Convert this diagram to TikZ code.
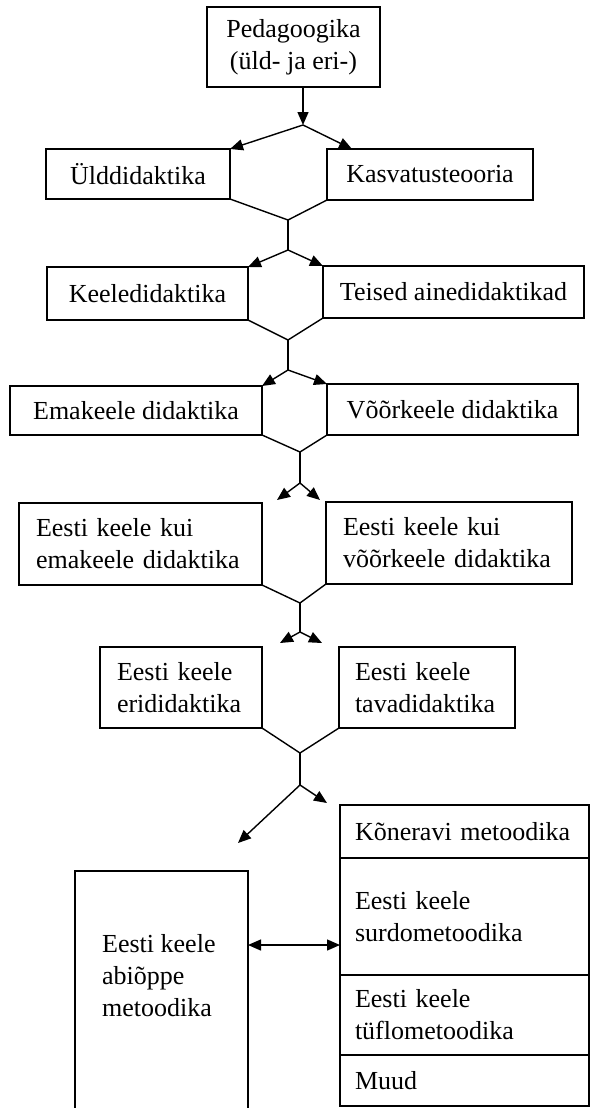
\documentclass[tikz,border=0pt]{standalone}
\usepackage{fontspec}
\setmainfont{Liberation Serif}
\usetikzlibrary{arrows.meta}
\begin{document}
\begin{tikzpicture}[x=1pt,y=-1pt,
  box/.style={draw, line width=2.5pt, anchor=north west, inner sep=0pt, outer sep=0pt,
    font=\fontsize{26}{32}\selectfont},
  lbox/.style={box, align=left, inner xsep=17pt},
  txt/.style={anchor=north west, align=left, inner sep=0pt, font=\fontsize{26}{32}\selectfont},
  conn/.style={line width=1.4pt},
  arr/.style={conn, -{Triangle[length=13pt,width=11pt]}},
  darr/.style={conn, {Triangle[length=13pt,width=11pt]}-{Triangle[length=13pt,width=11pt]}}]
\clip (0,0) rectangle (590,1108);
\fill[white] (0,0) rectangle (590,1108);

% boxes
\node[box, minimum width=173pt, minimum height=80pt, align=center] (ped) at (207,7) {Pedagoogika\\(üld- ja eri-)};
\node[box, minimum width=184pt, minimum height=50pt] (uld) at (46,149) {Ülddidaktika};
\node[box, minimum width=206pt, minimum height=51pt] (kasv) at (327,149) {Kasvatusteooria};
\node[box, minimum width=201pt, minimum height=53pt] (keele) at (47,267) {Keeledidaktika};
\node[box, minimum width=261pt, minimum height=52pt] (teised) at (323,266) {Teised ainedidaktikad};
\node[box, minimum width=252pt, minimum height=49pt] (ema) at (10,386) {Emakeele didaktika};
\node[box, minimum width=251pt, minimum height=51pt] (voor) at (327,384) {Võõrkeele didaktika};
\node[lbox, text width=209pt, minimum height=82pt] (ekema) at (19,503) {Eesti keele kui\\emakeele didaktika};
\node[lbox, text width=212pt, minimum height=82pt] (ekvoor) at (326,502) {Eesti keele kui\\võõrkeele didaktika};
\node[lbox, text width=128pt, minimum height=81pt] (erid) at (100,647) {Eesti keele\\erididaktika};
\node[lbox, inner xsep=16pt, text width=144pt, minimum height=81pt] (tavad) at (339,647) {Eesti keele\\tavadidaktika};

% bottom left box
\node[box, minimum width=173pt, minimum height=260pt] (abi) at (75,871) {};
\node[txt] (abitxt) at (102,934) {Eesti keele\\abiõppe\\metoodika};

% bottom right compartment box
\node[lbox, inner xsep=15pt, text width=219pt, minimum height=53pt] (kone) at (340,805) {Kõneravi metoodika};
\node[lbox, inner xsep=15pt, text width=219pt, minimum height=117pt] (surdo) at (340,858) {Eesti keele\\surdometoodika};
\node[lbox, inner xsep=15pt, text width=219pt, minimum height=80pt] (tyflo) at (340,975) {Eesti keele\\tüflometoodika};
\node[lbox, inner xsep=15pt, text width=219pt, minimum height=51pt] (muud) at (340,1055) {Muud};

% junction coordinates
\coordinate (j1) at (303,125);
\coordinate (m1) at (288,220);
\coordinate (s1) at (288,250);
\coordinate (m2) at (288,340);
\coordinate (s2) at (288,370);
\coordinate (m3) at (300,452);
\coordinate (s3) at (300,483);
\coordinate (t3L) at (277,500);
\coordinate (t3R) at (320,500);
\coordinate (m4) at (300,603);
\coordinate (s4) at (300,632);
\coordinate (t4L) at (280,643);
\coordinate (t4R) at (322,643);
\coordinate (m5) at (300,753);
\coordinate (s5) at (300,785);
\coordinate (t5L) at (238,843);
\coordinate (t5R) at (327,803);

% connectors
\draw[arr] (ped.south -| j1) -- (j1);
\draw[arr] (j1) -- (uld.north east);
\draw[arr] (j1) -- ([xshift=25pt]kasv.north west);

\draw[conn] (uld.south east) -- (m1);
\draw[conn] (kasv.south west) -- (m1);
\draw[conn] (m1) -- (s1);
\draw[arr] (s1) -- (keele.north east);
\draw[arr] (s1) -- (teised.north west);

\draw[conn] (keele.south east) -- (m2);
\draw[conn] (teised.south west) -- (m2);
\draw[conn] (m2) -- (s2);
\draw[arr] (s2) -- (ema.north east);
\draw[arr] (s2) -- (voor.north west);

\draw[conn] (ema.south east) -- (m3);
\draw[conn] (voor.south west) -- (m3);
\draw[conn] (m3) -- (s3);
\draw[arr] (s3) -- (t3L);
\draw[arr] (s3) -- (t3R);

\draw[conn] (ekema.south east) -- (m4);
\draw[conn] (ekvoor.south west) -- (m4);
\draw[conn] (m4) -- (s4);
\draw[arr] (s4) -- (t4L);
\draw[arr] (s4) -- (t4R);

\draw[conn] (erid.south east) -- (m5);
\draw[conn] (tavad.south west) -- (m5);
\draw[conn] (m5) -- (s5);
\draw[arr] (s5) -- (t5L);
\draw[arr] (s5) -- (t5R);

\draw[darr] (abi.east |- 0,945) -- (surdo.west |- 0,945);
\end{tikzpicture}
\end{document}
